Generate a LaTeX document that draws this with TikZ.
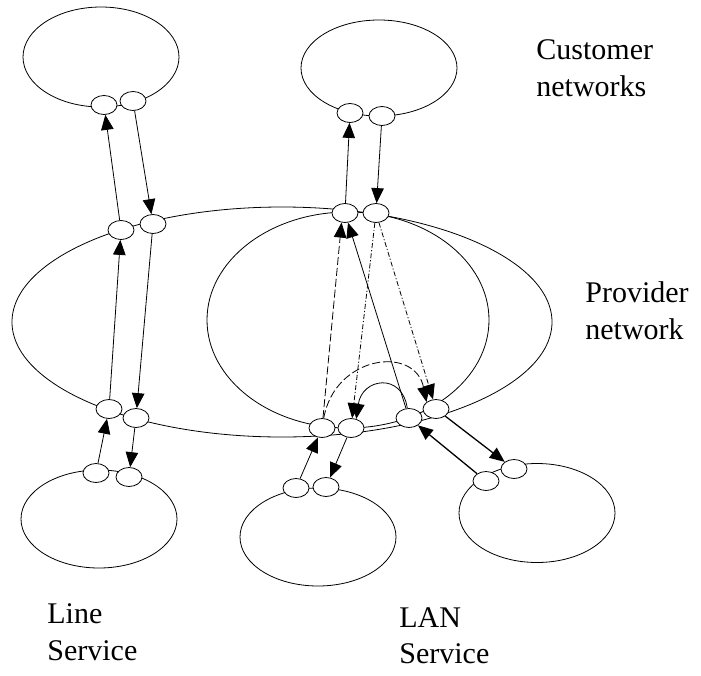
\documentclass[tikz,border=0pt]{standalone}
\usepackage{fontspec}
\setmainfont{Liberation Serif}
\usetikzlibrary{arrows.meta,shapes.geometric}
\begin{document}
\begin{tikzpicture}[x=1pt,y=-1pt, line width=0.8pt,
 port/.style={ellipse, draw, fill=white, minimum width=26pt, minimum height=19pt, inner sep=0pt},
 net/.style={ellipse, draw, inner sep=0pt},
 lbl/.style={anchor=base west, inner sep=0pt, font=\fontsize{30}{36}\selectfont},
 arr/.style={-{Triangle[length=15pt,width=12.5pt]}},
 ldash/.style={dash pattern=on 8pt off 3pt},
 ddot/.style={dash pattern=on 5pt off 2pt on 1.2pt off 2pt},
 heavy/.style={line width=1.3pt}
]
\useasboundingbox (0,0) rectangle (701,675);
% networks
\node[net, minimum width=540pt, minimum height=230pt] (prov) at (282,322) {};
\node[net, minimum width=282pt, minimum height=216pt] (inner) at (348,320) {};
\node[net, minimum width=156pt, minimum height=100pt] (c1) at (101,57) {};
\node[net, minimum width=156pt, minimum height=96pt] (c2) at (379,68) {};
\node[net, minimum width=156pt, minimum height=98pt] (c3) at (99,519) {};
\node[net, minimum width=156pt, minimum height=98pt] (c4) at (318,537) {};
\node[net, minimum width=156pt, minimum height=99pt] (c5) at (537,513) {};
% ports
\node[port] (tl1) at (104,105) {};
\node[port] (tl2) at (133,101) {};
\node[port] (tr1) at (350,113) {};
\node[port] (tr2) at (382,116) {};
\node[port] (pa1) at (121,230) {};
\node[port] (pa2) at (153,224) {};
\node[port] (pb1) at (345,213) {};
\node[port] (pb2) at (376,213) {};
\node[port] (pc1) at (109,409) {};
\node[port] (pc2) at (136,418) {};
\node[port] (pd1) at (322,428) {};
\node[port] (pd2) at (351,428) {};
\node[port] (pe1) at (409,418) {};
\node[port] (pe2) at (436,409) {};
\node[port] (bl1) at (96,473) {};
\node[port] (bl2) at (129,477) {};
\node[port] (bm1) at (296,488) {};
\node[port] (bm2) at (326,487) {};
\node[port] (br1) at (486,481) {};
\node[port] (br2) at (514,469) {};
% line service
\draw[arr] (pa1) -- (tl1);
\draw[arr] (tl2) -- (pa2);
\draw[arr] (pc1) -- (pa1);
\draw[arr] (pa2) -- (pc2);
\draw[arr] (bl1) -- (pc1);
\draw[arr] (pc2) -- (bl2);
% LAN service
\draw[arr] (pb1) -- (tr1);
\draw[arr] (tr2) -- (pb2);
\draw[arr,ldash] (pd1) -- (pb1.250);
\draw[arr] (pe1) -- (pb1);
\draw[arr,ddot] (pb2) -- (pd2);
\draw[arr,ddot] (pb2) -- (pe2);
\draw[arr,ldash] (pd1.80) .. controls (335,355) and (415,345) .. (pe2.north west);
\draw[arr] (pe1.100) .. controls (402,372) and (362,378) .. (pd2.60);
\draw[arr] (bm1) -- (pd1);
\draw[arr] (pd2) -- (bm2);
\draw[arr,heavy] (pe2) -- (br2);
\draw[arr,heavy] (br1) -- (pe1);
% labels
\node[lbl] (t1) at (536,59) {Customer};
\node[lbl] (t2) at (536,96) {networks};
\node[lbl] (t3) at (585,302) {Provider};
\node[lbl] (t4) at (585,339) {network};
\node[lbl] (t5) at (47,623) {Line};
\node[lbl] (t6) at (47,660) {Service};
\node[lbl] (t7) at (399,627) {LAN};
\node[lbl] (t8) at (399,663) {Service};
\end{tikzpicture}
\end{document}
